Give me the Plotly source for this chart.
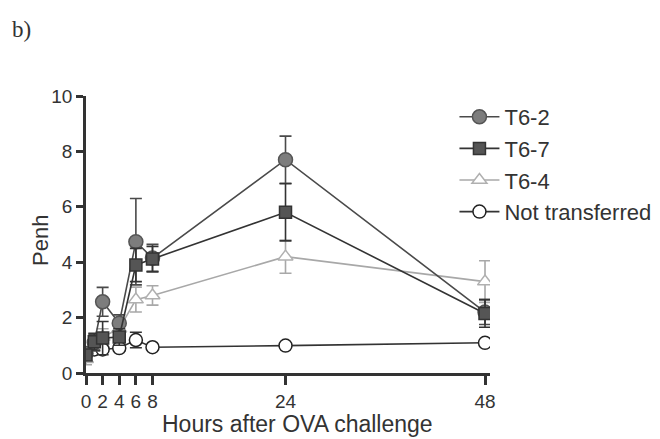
import plotly.graph_objects as go

hours = [0, 1, 2, 4, 6, 8, 24, 48]

t62 = [0.7, 1.1, 2.57, 1.8, 4.74, 4.15, 7.7, 2.2]
t62_err = [0.1, 0.3, 0.52, 0.3, 1.56, 0.5, 0.85, 0.45]

t67 = [0.65, 1.13, 1.26, 1.3, 3.9, 4.12, 5.8, 2.15]
t67_err = [0.15, 0.3, 0.6, 0.3, 0.6, 0.45, 1.03, 0.5]

t64 = [0.5, 1.0, 1.3, 1.6, 2.65, 2.8, 4.2, 3.3]
t64_err = [0.2, 0.2, 0.3, 0.3, 0.45, 0.35, 0.6, 0.75]

nt = [0.7, 0.85, 0.85, 0.9, 1.19, 0.93, 0.99, 1.09]
nt_err = [0.1, 0.1, 0.1, 0.1, 0.28, 0.05, 0.05, 0.05]

x_ticks = [0, 2, 4, 6, 8, 24, 48]
y_ticks = [0, 2, 4, 6, 8, 10]

fig = go.Figure()

def add(name, y, err, symbol, fill, edge, line, rank, size):
    fig.add_trace(go.Scatter(
        x=hours, y=y, name=name, mode="lines+markers",
        line=dict(color=line, width=1.6),
        marker=dict(symbol=symbol, size=size, color=fill, line=dict(color=edge, width=1.5)),
        error_y=dict(type="data", array=err, visible=True, color=line, thickness=1.6, width=6),
        legendrank=rank,
    ))

add("T6-4", t64, t64_err, "triangle-up", "white", "#b0b0b0", "#a8a8a8", 3, 13)
add("Not transferred", nt, nt_err, "circle", "white", "#222222", "#333333", 4, 13)
add("T6-2", t62, t62_err, "circle", "#7d7d7d", "#555555", "#4a4a4a", 1, 14)
add("T6-7", t67, t67_err, "square", "#555555", "#333333", "#333333", 2, 12)

fig.update_layout(
    width=652, height=431,
    margin=dict(l=78, r=170, t=88, b=66, autoexpand=False),
    paper_bgcolor="white", plot_bgcolor="white",
    font=dict(family="Liberation Sans, Arial, sans-serif", color="#333333"),
    showlegend=True,
    legend=dict(x=0.912, xanchor="left", y=1.0, yanchor="top",
                font=dict(size=22, color="#333333"), bgcolor="rgba(0,0,0,0)",
                tracegroupgap=0, itemwidth=40),
    xaxis=dict(range=[0, 48.6], tickvals=x_ticks, ticks="outside", ticklen=9, tickwidth=2.5,
               tickcolor="#333333", showline=True, linewidth=2.5, linecolor="#333333",
               showgrid=False, zeroline=False, tickfont=dict(size=19), automargin=False),
    yaxis=dict(range=[0, 10], tickvals=y_ticks, ticks="outside", ticklen=7, tickwidth=2.5,
               tickcolor="#333333", showline=True, linewidth=2.5, linecolor="#333333",
               showgrid=False, zeroline=False, tickfont=dict(size=19), automargin=False),
)
fig.add_annotation(text="Hours after OVA challenge", xref="paper", yref="paper",
                   x=0.524, y=-0.184, xanchor="center", yanchor="middle", showarrow=False,
                   font=dict(size=23, color="#333333"))
fig.add_annotation(text="Penh", xref="paper", yref="paper", textangle=-90,
                   x=-0.114, y=0.48, xanchor="center", yanchor="middle", showarrow=False,
                   font=dict(size=22, color="#333333"))
fig.add_annotation(text="b)", xref="paper", yref="paper", x=-0.188, y=1.24,
                   xanchor="left", yanchor="middle", showarrow=False,
                   font=dict(family="Liberation Serif, serif", size=23, color="#333333"))

fig.write_html("out.html")
